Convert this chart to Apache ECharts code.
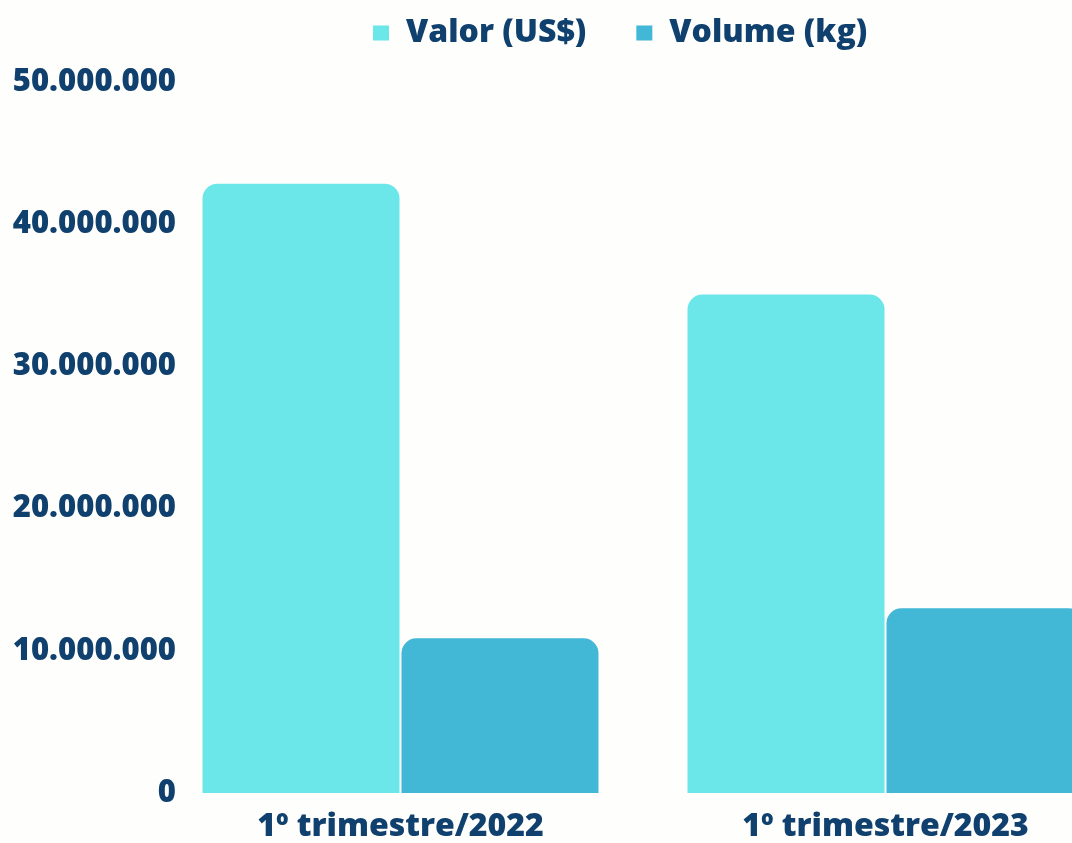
<!DOCTYPE html>
<html>
<head>
<meta charset="utf-8">
<script src="https://cdn.jsdelivr.net/npm/echarts@6/dist/echarts.min.js"></script>
<style>
html,body{margin:0;padding:0;background:#fefefc;overflow:hidden;width:1072px;height:843px;}
#chart{width:1130px;height:843px;}
</style>
</head>
<body>
<div id="chart"></div>
<script>
const categories = ['1º trimestre/2022', '1º trimestre/2023'];
const seriesNames = ['Valor (US$)', 'Volume (kg)'];
const valorUSD = [42850000, 35050000];
const volumeKg = [10880000, 12990000];

const navy = '#0f406e';
const fmt = v => String(v).replace(/\B(?=(\d{3})+(?!\d))/g, '.');

const chart = echarts.init(document.getElementById('chart'));
chart.setOption({
  backgroundColor: '#fefefc',
  animation: false,
  legend: {
    left: 373, top: 17, padding: 0,
    icon: 'rect', itemWidth: 16, itemHeight: 15, itemGap: 50,
    textStyle: { fontFamily: 'Open Sans', fontWeight: 800, fontSize: 32, color: navy, padding: [0,0,0,12] },
    data: seriesNames
  },
  grid: { left: 158, right: 2, top: 82, bottom: 49, containLabel: false },
  xAxis: {
    type: 'category', data: categories,
    axisLine: { show: false }, axisTick: { show: false },
    axisLabel: { fontFamily: 'Open Sans', fontWeight: 800, fontSize: 32, color: navy, margin: 18 }
  },
  yAxis: {
    type: 'value', min: 0, max: 50000000, interval: 10000000,
    splitLine: { show: false }, axisLine: { show: false }, axisTick: { show: false },
    axisLabel: { fontFamily: 'Open Sans', fontWeight: 800, fontSize: 31, color: navy, margin: -18, formatter: fmt }
  },
  series: [
    { name: seriesNames[0], type: 'bar', data: valorUSD, barWidth: 197, barGap: '1%',
      itemStyle: { color: '#6be6e9', borderRadius: [15,15,0,0] } },
    { name: seriesNames[1], type: 'bar', data: volumeKg, barWidth: 197,
      itemStyle: { color: '#42b7d6', borderRadius: [15,15,0,0] } }
  ]
});
</script>
</body>
</html>
